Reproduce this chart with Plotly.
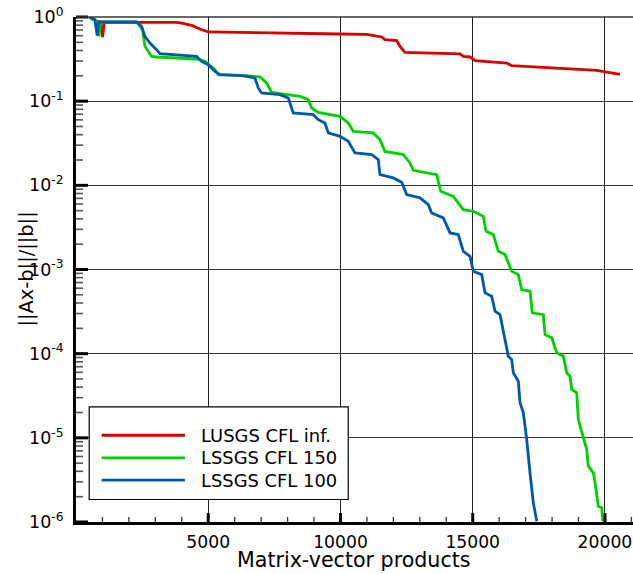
import math
import plotly.graph_objects as go

# ---- data ----
lusgs_x = [499, 760, 930, 1006, 1070, 3800, 4050, 4400, 4686, 5000, 9981, 10991,
           11558, 11683, 12125, 12250, 12438, 14518, 14644, 14897, 15086, 16285,
           16474, 19689, 20570]
lusgs_y = [1.0, 0.90, 0.87, 0.579, 0.865, 0.863, 0.84, 0.79, 0.72, 0.664, 0.628, 0.621,
           0.579, 0.5375, 0.523, 0.448, 0.380, 0.364, 0.340, 0.335, 0.303, 0.284,
           0.264, 0.232, 0.208]

cfl150_x = [499, 779, 866, 930, 2292, 2519, 2606, 2859, 3048, 4561, 4875, 5253, 5378,
            6452, 6955, 7208, 7398, 8468, 8782, 8910, 9160, 9981, 10295, 10484, 11240,
            11493, 11683, 12375, 12628, 12753, 13638, 13789, 14266, 14644, 15022, 15400,
            15502, 15779, 15968, 16221, 16474, 16724, 16853, 17166, 17253, 17670, 17734,
            17987, 18176, 18426, 18554, 18679, 18744, 18932, 18993, 19182, 19311, 19371,
            19561, 19625, 19750, 19878, 19916]
cfl150_y = [1.0, 0.887, 0.588, 0.872, 0.872, 0.706, 0.448, 0.340, 0.335, 0.317, 0.297,
            0.2366, 0.2063, 0.201, 0.194, 0.1644, 0.1272, 0.114, 0.1042, 0.083, 0.0736,
            0.066, 0.0551, 0.0438, 0.0419, 0.0349, 0.0253, 0.0232, 0.01846, 0.01508,
            0.0134, 0.00849, 0.0074, 0.00514, 0.00491, 0.00428, 0.00284, 0.0026,
            0.001645, 0.001503, 0.000952, 0.00087, 0.000577, 0.000551, 0.000305,
            0.000291, 0.0001686, 0.0001542, 0.0001023, 0.0000931, 0.0000592, 0.0000539,
            0.0000375, 0.0000342, 0.0000165, 0.0000104, 0.00000726, 0.0000046,
            0.00000384, 0.00000292, 0.00000154, 0.00000148, 0.00000102]

cfl100_x = [499, 715, 802, 866, 2292, 2481, 2606, 2795, 3048, 3173, 4561, 4750, 5000,
            5253, 5442, 6263, 6766, 6891, 7019, 7711, 8025, 8214, 8971, 9160, 9413,
            9538, 9981, 10295, 10548, 11180, 11429, 11493, 11996, 12314, 12503, 13006,
            13320, 13449, 13888, 14141, 14455, 14644, 14897, 15022, 15340, 15465, 15718,
            15843, 16032, 16183, 16346, 16474, 16535, 16724, 16788, 16913, 17042, 17166,
            17291, 17420]
cfl100_y = [1.0, 0.929, 0.600, 0.872, 0.872, 0.773, 0.588, 0.491, 0.409, 0.367, 0.340,
            0.297, 0.271, 0.226, 0.2063, 0.201, 0.1886, 0.1434, 0.1252, 0.1194, 0.109,
            0.0724, 0.0691, 0.0603, 0.0551, 0.0419, 0.0382, 0.0333, 0.0243, 0.0232,
            0.0202, 0.0134, 0.01225, 0.01086, 0.00775, 0.00709, 0.0059, 0.0047, 0.0041,
            0.00272, 0.0026, 0.001645, 0.001435, 0.000952, 0.00087, 0.000527, 0.000481,
            0.000319, 0.000291, 0.000161, 0.0000931, 0.0000851, 0.0000592, 0.000047,
            0.0000261, 0.0000198, 0.00000955, 0.00000384, 0.00000169, 0.00000102]

series_names = ["LUSGS CFL inf.", "LSSGS CFL 150", "LSSGS CFL 100"]
series_colors = ["#d60000", "#00d000", "#0058ac"]

x_tickvals = [5000, 10000, 15000, 20000]
x_ticktext = ["5000", "10000", "15000", "20000"]
x_minor_step = 1000
x_max = 21060
y_exponents = [-6, -5, -4, -3, -2, -1, 0]
y_tickvals = [10.0 ** e for e in y_exponents]
y_ticktext = ["10<sup>%d</sup>" % e for e in y_exponents]

FONT = "DejaVu Sans, Liberation Sans, Arial, sans-serif"

# plot-area size in pixels (for tick lengths)
PW, PH = 557.0, 505.0

fig = go.Figure()
for xs, ys, name, col in zip([lusgs_x, cfl150_x, cfl100_x],
                             [lusgs_y, cfl150_y, cfl100_y],
                             series_names, series_colors):
    fig.add_trace(go.Scatter(x=xs, y=ys, mode="lines", name=name,
                             line=dict(color=col, width=2.8), showlegend=False))

fig.update_layout(
    width=633, height=574,
    margin=dict(l=76, r=0, t=17, b=52),
    paper_bgcolor="white", plot_bgcolor="white",
    font=dict(family=FONT, color="black", size=17),
)
fig.update_xaxes(
    range=[0, x_max], tickmode="array", tickvals=x_tickvals, ticktext=x_ticktext,
    showgrid=True, gridcolor="#222", gridwidth=1.2, ticks="",
    showline=True, linecolor="black", linewidth=3, ticklabelstandoff=2,
    tickfont=dict(size=17.2, family=FONT), zeroline=False,
)
fig.update_yaxes(
    type="log", range=[-6, 0], tickmode="array", tickvals=y_tickvals, ticktext=y_ticktext,
    showgrid=True, gridcolor="#333", gridwidth=1.2, ticks="",
    showline=True, linecolor="black", linewidth=3, ticklabelstandoff=6,
    tickfont=dict(size=17.5, family=FONT), zeroline=False,
)

shapes = []
# x ticks (inside, pointing up)
for v in range(x_minor_step, x_max, x_minor_step):
    major = v in x_tickvals
    ln = 9 if major else 5
    shapes.append(dict(type="line", xref="x", yref="paper", x0=v, x1=v,
                       y0=0, y1=ln / PH,
                       line=dict(color="black" if major else "#333",
                                 width=3 if major else 1.3)))
# y ticks (inside, pointing right)
for e in y_exponents:
    shapes.append(dict(type="line", xref="paper", yref="paper", x0=0, x1=12 / PW,
                       y0=(e + 6) / 6, y1=(e + 6) / 6,
                       line=dict(color="black", width=3)))
    if e < 0:
        for k in range(2, 10):
            f = (math.log10(k) + e + 6) / 6
            shapes.append(dict(type="line", xref="paper", yref="paper", x0=0, x1=7 / PW,
                               y0=f, y1=f, line=dict(color="#555", width=1.6)))
# top frame line
shapes.append(dict(type="line", xref="paper", yref="paper", x0=0, x1=1, y0=1, y1=1,
                   line=dict(color="#333", width=1.5)))
for s in shapes:
    fig.add_shape(**s)

# axis titles
fig.add_annotation(text="Matrix-vector products", xref="paper", yref="paper",
                   x=(354.5 - 76.1) / 556.9, y=(522.5 - 561) / 505.2,
                   xanchor="center", yanchor="middle", showarrow=False,
                   font=dict(size=20.6, family=FONT))
fig.add_annotation(text="||Ax-b||/||b||", xref="paper", yref="paper",
                   x=(27 - 76.1) / 556.9, y=(522.5 - 269) / 505.2, textangle=-90,
                   xanchor="center", yanchor="middle", showarrow=False,
                   font=dict(size=19.4, family=FONT))

# legend box (drawn manually to match the reference layout)
def px(xp):
    return (xp - 76.1) / 556.9

def py(yp):
    return (522.5 - yp) / 505.2

fig.add_shape(type="rect", xref="paper", yref="paper", x0=px(89.3), x1=px(348.3),
              y0=py(500), y1=py(407.3), line=dict(color="black", width=1.2),
              fillcolor="white", layer="above")
for name, col, yy in zip(series_names, series_colors, [435.7, 458.3, 480.7]):
    fig.add_shape(type="line", xref="paper", yref="paper", x0=px(101.7), x1=px(185),
                  y0=py(yy), y1=py(yy), line=dict(color=col, width=2.8), layer="above")
    fig.add_annotation(text=name, xref="paper", yref="paper", x=px(199), y=py(yy),
                       xanchor="left", yanchor="middle", showarrow=False,
                       font=dict(size=17.9, family=FONT))

fig.write_html("out.html")
